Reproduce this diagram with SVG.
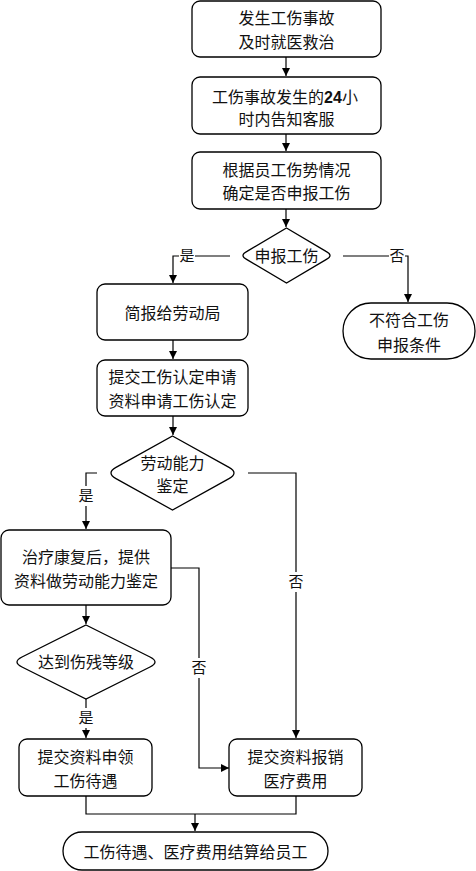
<svg xmlns="http://www.w3.org/2000/svg" width="476" height="871" viewBox="0 0 476 871">
<defs>
<marker id="ah" viewBox="0 0 10 10" refX="10" refY="5" markerWidth="8" markerHeight="8" markerUnits="userSpaceOnUse" orient="auto">
<path d="M0,0 L10,5 L0,10 Z" fill="#000"/>
</marker>
<style>
.n{fill:#fff;stroke:#000;stroke-width:1.3}
.t{font-family:"Liberation Serif","Noto Sans CJK SC",serif;font-size:16px;fill:#111;text-anchor:middle}
.l{font-family:"Liberation Serif","Noto Sans CJK SC",serif;font-size:15px;fill:#111;text-anchor:middle}
.c{fill:none;stroke:#000;stroke-width:1.2}
.a{marker-end:url(#ah)}
.d{font-family:"Liberation Sans",sans-serif;font-weight:bold}
</style>
</defs>
<rect width="476" height="871" fill="#fff"/>
<g id="connectors">
<path class="c a" d="M286,57 V76"/>
<path class="c a" d="M286,134 V151"/>
<path class="c a" d="M286,209 V227"/>
<path class="c a" d="M230,256 H173 V283"/>
<path class="c a" d="M343,256 H408 V302"/>
<path class="c a" d="M173,340 V359"/>
<path class="c a" d="M173,416 V435"/>
<path class="c a" d="M97,473 H86 V529"/>
<path class="c a" d="M248,473 H296 V738"/>
<path class="c a" d="M171,568 H199 V768 H229"/>
<path class="c a" d="M86,605 V624"/>
<path class="c a" d="M86,699 V738"/>
<path class="c" d="M86,796 V814 H296 V796"/>
<path class="c a" d="M195,814 V831"/>
<g id="labels">
<rect x="179" y="247" width="16" height="18" fill="#fff"/><text class="l" x="187" y="261">是</text>
<rect x="389" y="247" width="16" height="18" fill="#fff"/><text class="l" x="397" y="261">否</text>
<rect x="78" y="486" width="16" height="20" fill="#fff"/><text class="l" x="86" y="501">是</text>
<rect x="288" y="572" width="16" height="20" fill="#fff"/><text class="l" x="296" y="587">否</text>
<rect x="191" y="658" width="16" height="20" fill="#fff"/><text class="l" x="199" y="673">否</text>
<rect x="78" y="708" width="16" height="20" fill="#fff"/><text class="l" x="86" y="723">是</text>
</g>
</g>
<g id="n1"><rect class="n" x="192" y="1" width="189" height="56" rx="8"/>
<text class="t" x="286.5" y="24">发生工伤事故</text><text class="t" x="286.5" y="48">及时就医救治</text></g>
<g id="n2"><rect class="n" x="192" y="77" width="189" height="57" rx="8"/>
<text class="t" x="285" y="103">工伤事故发生的<tspan class="d">24</tspan>小</text><text class="t" x="286.5" y="125">时内告知客服</text></g>
<g id="n3"><rect class="n" x="192" y="152" width="189" height="57" rx="8"/>
<text class="t" x="286.5" y="176">根据员工伤势情况</text><text class="t" x="286.5" y="199">确定是否申报工伤</text></g>
<g id="d1"><path class="n" d="M286.5,228 L326,251.4 Q334,255.5 326,259.6 L286.5,283 L247,259.6 Q239,255.5 247,251.4 Z"/>
<text class="t" x="286.5" y="262">申报工伤</text></g>
<g id="n4"><rect class="n" x="97" y="284" width="151" height="56" rx="8"/>
<text class="t" x="172.5" y="319">简报给劳动局</text></g>
<g id="n5"><rect class="n" x="343" y="303" width="132" height="56" rx="28"/>
<text class="t" x="409" y="326">不符合工伤</text><text class="t" x="409" y="351">申报条件</text></g>
<g id="n6"><rect class="n" x="97" y="360" width="151" height="56" rx="8"/>
<text class="t" x="172.5" y="383">提交工伤认定申请</text><text class="t" x="172.5" y="407">资料申请工伤认定</text></g>
<g id="d2"><path class="n" d="M172.5,436 L229,467.4 Q239,473 229,478.6 L172.5,510 L116,478.6 Q106,473 116,467.4 Z"/>
<text class="t" x="172.5" y="469">劳动能力</text><text class="t" x="172.5" y="492">鉴定</text></g>
<g id="n7"><rect class="n" x="1" y="530" width="170" height="75" rx="8"/>
<text class="t" x="86" y="563">治疗康复后，提供</text><text class="t" x="86" y="587">资料做劳动能力鉴定</text></g>
<g id="d3"><path class="n" d="M86,625 L150,657 Q160,662 150,667 L86,699 L22,667 Q12,662 22,657 Z"/>
<text class="t" x="86" y="668">达到伤残等级</text></g>
<g id="n8"><rect class="n" x="19" y="739" width="133" height="57" rx="8"/>
<text class="t" x="85.5" y="763">提交资料申领</text><text class="t" x="85.5" y="787">工伤待遇</text></g>
<g id="n9"><rect class="n" x="229" y="739" width="133" height="57" rx="8"/>
<text class="t" x="295.5" y="763">提交资料报销</text><text class="t" x="295.5" y="787">医疗费用</text></g>
<g id="n10"><rect class="n" x="63" y="832" width="265" height="38" rx="19"/>
<text class="t" x="195.5" y="858">工伤待遇、医疗费用结算给员工</text></g>
</svg>
